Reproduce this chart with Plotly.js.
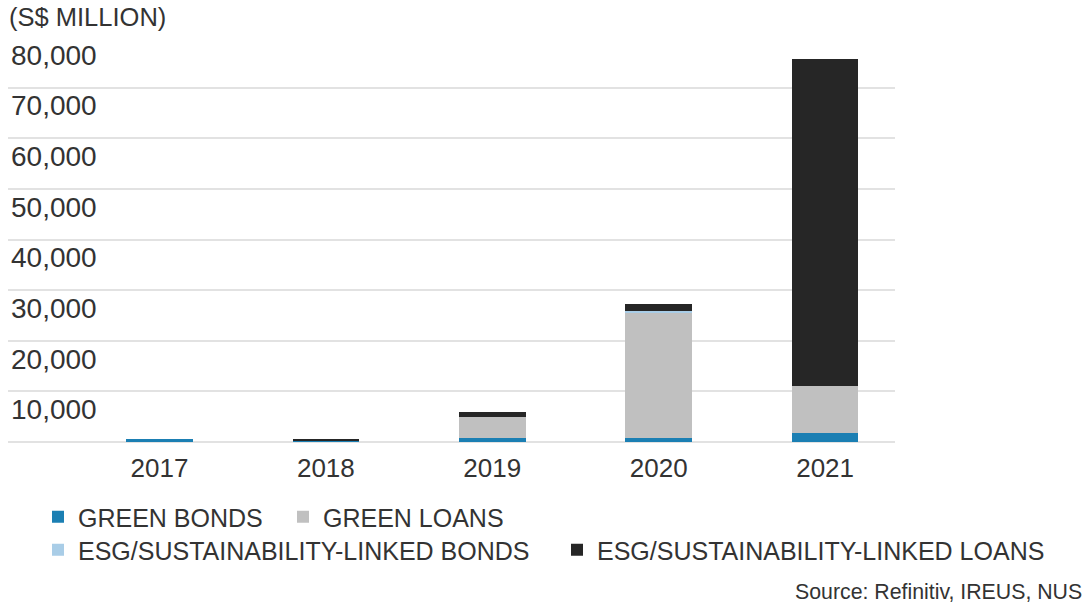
<!DOCTYPE html>
<html>
<head>
<meta charset="utf-8">
<script src="https://cdn.plot.ly/plotly-3.0.1.min.js"></script>
<style>html,body{margin:0;padding:0;background:#fff;}#chart{width:1086px;height:605px;}</style>
</head>
<body>
<div id="chart"></div>
<script>
const years = ['2017', '2018', '2019', '2020', '2021'];
const greenBonds = [500, 150, 800, 800, 1800];
const greenLoans = [0, 0, 4200, 24700, 9300];
const esgBonds = [0, 0, 0, 300, 0];
const esgLoans = [0, 500, 1000, 1400, 64500];
const seriesNames = ['GREEN BONDS', 'GREEN LOANS', 'ESG/SUSTAINABILITY-LINKED BONDS', 'ESG/SUSTAINABILITY-LINKED LOANS'];
const yTickVals = [10000, 20000, 30000, 40000, 50000, 60000, 70000, 80000];
const yTickText = ['10,000', '20,000', '30,000', '40,000', '50,000', '60,000', '70,000', '80,000'];
const sourceText = 'Source: Refinitiv, IREUS, NUS';
const unitText = '(S$ MILLION)';

const colors = ['#1b7fb3', '#c0c0c0', '#a9cde7', '#262626'];
const values = [greenBonds, greenLoans, esgBonds, esgLoans];
const legendIds = ['legend', 'legend2', 'legend3', 'legend4'];

const FONT = '"Liberation Sans", Arial, sans-serif';
const TXT = '#333333';

const traces = values.map((v, i) => ({
  type: 'bar',
  x: years,
  y: v,
  name: seriesNames[i],
  marker: {color: colors[i], line: {width: 0}},
  legend: legendIds[i],
  hoverinfo: 'x+y+name'
}));

const W = 1086, H = 605;
const ML = 8, MR = 191, MT = 37, MB = 163;
const PW = W - ML - MR, PH = H - MT - MB;

function legendAt(px, py) {
  return {
    xref: 'container', yref: 'container',
    x: px / W, y: 1 - py / H, xanchor: 'left', yanchor: 'middle',
    bgcolor: 'rgba(0,0,0,0)', borderwidth: 0,
    font: {family: FONT, size: 25, color: TXT},
    orientation: 'h', itemclick: false, itemdoubleclick: false
  };
}

const layout = {
  width: W, height: H,
  margin: {l: ML, r: MR, t: MT, b: MB, pad: 0},
  paper_bgcolor: '#ffffff', plot_bgcolor: '#ffffff',
  barmode: 'stack',
  bargap: 0.6,
  showlegend: true,
  title: {
    text: unitText,
    xref: 'container', yref: 'container',
    x: 9 / W, xanchor: 'left', y: 1 - 17 / H, yanchor: 'middle',
    font: {family: FONT, size: 25.5, color: TXT}
  },
  xaxis: {
    type: 'category',
    range: [-0.91, 4.42],
    showgrid: false, zeroline: false, showline: false,
    ticks: '', ticklabelstandoff: 8,
    tickfont: {family: FONT, size: 26, color: TXT},
    fixedrange: true
  },
  yaxis: {
    range: [0, 80000],
    tickvals: yTickVals, ticktext: yTickText,
    ticklabelposition: 'inside',
    ticklabelshift: 18,
    showgrid: true, gridcolor: '#e2e2e2', gridwidth: 2,
    zeroline: true, zerolinecolor: '#e2e2e2', zerolinewidth: 2,
    showline: false, ticks: '',
    tickfont: {family: FONT, size: 28, color: TXT},
    fixedrange: true
  },
  legend: legendAt(38, 517),
  legend2: legendAt(283, 517),
  legend3: legendAt(38, 550),
  legend4: legendAt(557, 550),
  annotations: [{
    text: sourceText, showarrow: false,
    xref: 'paper', yref: 'paper',
    x: (1084 - ML) / PW, y: (H - MB - 592) / PH, xanchor: 'right', yanchor: 'middle',
    font: {family: FONT, size: 21.3, color: TXT}
  }]
};

Plotly.newPlot('chart', traces, layout, {displayModeBar: false, staticPlot: true});
</script>
</body>
</html>
